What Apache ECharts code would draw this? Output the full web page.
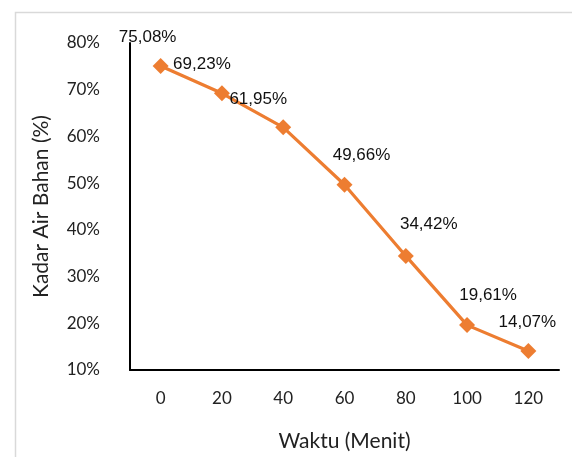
<!DOCTYPE html>
<html>
<head>
<meta charset="utf-8">
<script src="https://cdn.jsdelivr.net/npm/echarts@6/dist/echarts.min.js"></script>
<style>html,body{margin:0;padding:0;background:#fff}#c{width:572px;height:457px}</style>
</head>
<body>
<div id="c"></div>
<script>
const categories = ['0', '20', '40', '60', '80', '100', '120'];
const kadarAir = [75.08, 69.23, 61.95, 49.66, 34.42, 19.61, 14.07];
const yTicks = { min: 10, max: 80, interval: 10 };

// label placement offsets (style only)
const labelOffsets = [[-13, 0], [-20, 0], [-25, 0], [17, -1], [23, -3], [21, -1], [-1, 0]];

const chart = echarts.init(document.getElementById('c'), null, { renderer: 'canvas' });
chart.setOption({
  animation: false,
  backgroundColor: '#fff',
  graphic: [{
    type: 'rect', left: 13, top: 10, z: -10,
    shape: { width: 580, height: 470 },
    style: { fill: 'none', stroke: '#d9d9d9', lineWidth: 1.5 }
  }],
  grid: { left: 130, top: 43, right: 13, bottom: 87 },
  xAxis: {
    type: 'category',
    data: categories,
    boundaryGap: true,
    name: 'Waktu (Menit)',
    nameLocation: 'middle',
    nameGap: 61,
    nameTextStyle: { fontFamily: 'Lato', fontSize: 21, color: '#222' },
    axisLine: { lineStyle: { color: '#000', width: 2 } },
    axisTick: { show: false },
    axisLabel: { fontFamily: 'Lato', fontSize: 17, color: '#222', margin: 20 },
    splitLine: { show: false }
  },
  yAxis: {
    type: 'value',
    min: yTicks.min, max: yTicks.max, interval: yTicks.interval,
    name: 'Kadar Air Bahan (%)',
    nameLocation: 'middle',
    nameGap: 78,
    nameTextStyle: { fontFamily: 'Lato', fontSize: 21, color: '#222' },
    axisLine: { show: true, lineStyle: { color: '#000', width: 2 } },
    axisTick: { show: false },
    axisLabel: { fontFamily: 'Lato', fontSize: 17, color: '#222', margin: 30, formatter: '{value}%' },
    splitLine: { show: false }
  },
  series: [{
    type: 'line',
    data: kadarAir.map((v, i) => ({
      value: v,
      label: { offset: labelOffsets[i] }
    })),
    symbol: 'diamond',
    symbolSize: 16,
    itemStyle: { color: '#ED7D31' },
    lineStyle: { color: '#ED7D31', width: 3.2 },
    label: {
      show: true,
      position: 'top',
      distance: 12,
      fontFamily: 'Liberation Sans',
      fontSize: 17,
      color: '#111',
      formatter: p => p.value.toFixed(2).replace('.', ',') + '%'
    }
  }]
});
</script>
</body>
</html>
